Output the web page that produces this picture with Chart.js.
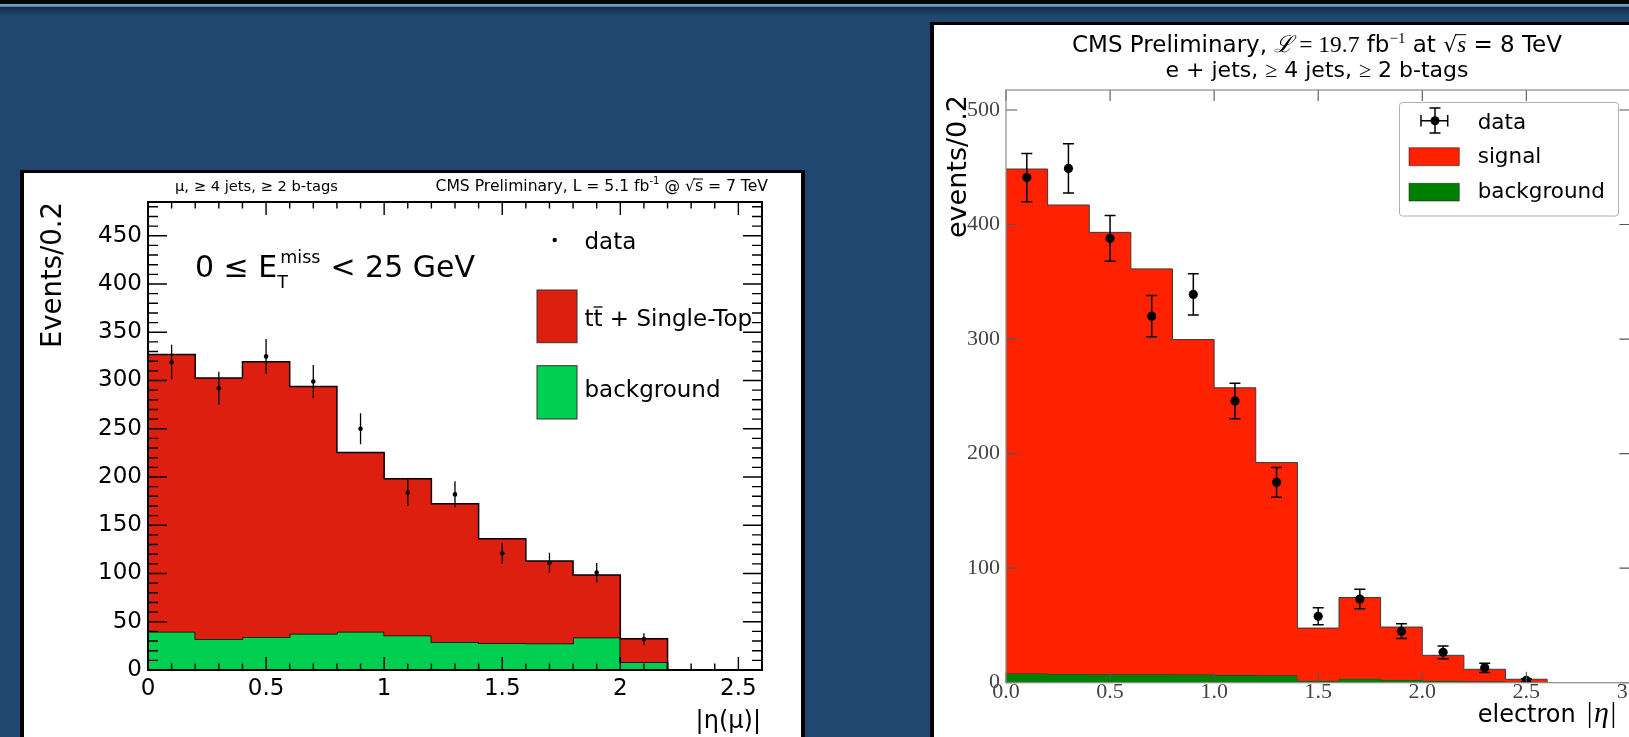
<!DOCTYPE html>
<html><head><meta charset="utf-8">
<script src="https://cdn.jsdelivr.net/npm/chart.js@4.4.1/dist/chart.umd.min.js"></script>
<style>
html,body{margin:0;padding:0;width:1629px;height:737px;overflow:hidden;background:#1f476f;}
#topblack{position:absolute;left:0;top:0;width:1629px;height:4px;background:#050505;}
#topline{position:absolute;left:0;top:4px;width:1629px;height:3px;background:linear-gradient(#86acd6,#4d79a9);}
#topshade{position:absolute;left:0;top:7px;width:1629px;height:9px;background:linear-gradient(#132b45,#1f476f);}
#leftPanel{position:absolute;left:20px;top:170px;width:777px;height:600px;border-left:4px solid #000;border-right:4px solid #000;border-top:3px solid #000;background:#fff;}
#rightPanel{position:absolute;left:930px;top:22px;width:760px;height:760px;border-left:4px solid #000;border-top:3px solid #000;background:#fff;}
canvas{position:absolute;left:0;top:0;}
</style></head>
<body>
<div id="topblack"></div><div id="topline"></div><div id="topshade"></div>
<div id="leftPanel"><canvas id="leftChart" width="777" height="564"></canvas></div>
<div id="rightPanel"><canvas id="rightChart" width="726" height="712"></canvas></div>
<script>
// ---------------- Left chart (muon |eta|, 7 TeV) ----------------
const leftBinLow = [0.0,0.2,0.4,0.6,0.8,1.0,1.2,1.4,1.6,1.8,2.0];
const leftBinWidth = 0.2;
const leftBackground = [39.7,32.0,34.1,37.6,39.7,35.8,28.9,27.8,27.5,33.8,8.0];
const leftSignal = [287.3,270.7,285.3,256.1,185.8,162.5,143.3,108.2,85.5,64.7,24.4];
const leftDataX = [0.1,0.3,0.5,0.7,0.9,1.1,1.3,1.5,1.7,1.9,2.1];
const leftDataY = [319,292,325,299,250,184,182,121,111,101,32];
const leftDataErr = [18,17,18,17,16,14,13.5,11,10.5,10,6];
const leftXTicks = [0,0.5,1,1.5,2,2.5];
const leftXTickLabels = ['0','0.5','1','1.5','2','2.5'];
const leftYTicks = [0,50,100,150,200,250,300,350,400,450];
const leftYTickLabels = ['0','50','100','150','200','250','300','350','400','450'];

// ---------------- Right chart (electron |eta|, 8 TeV) ----------------
const rightBinLow = [0.0,0.2,0.4,0.6,0.8,1.0,1.2,1.4,1.6,1.8,2.0,2.2,2.4];
const rightBinWidth = 0.2;
const rightBackground = [8.1,7.6,7.3,7.3,7.2,6.7,6.4,1.7,3.5,2.6,1.7,1.2,0.6];
const rightSignal = [440.4,409.5,385.9,354.0,292.4,250.8,185.8,46.0,70.9,46.0,22.2,10.5,2.4];
const rightDataX = [0.1,0.3,0.5,0.7,0.9,1.1,1.3,1.5,1.7,1.9,2.1,2.3,2.5];
const rightDataY = [441,449,388,320,339,246,175,58,73,45,26.5,13,2];
const rightDataErr = [21,21.5,20,18,18,15.5,13,7.5,8.5,6.5,5.5,4,1.5];
const rightXTicks = [0,0.5,1,1.5,2,2.5,3];
const rightXTickLabels = ['0.0','0.5','1.0','1.5','2.0','2.5','3.0'];
const rightYTicks = [0,100,200,300,400,500];
const rightYTickLabels = ['0','100','200','300','400','500'];

// ---------- helpers ----------
function stepPoints(lows, width, vals){
  const pts = lows.map((x,i)=>({x:x, y:vals[i]}));
  const end = lows[lows.length-1] + width;
  pts.push({x:end, y:vals[vals.length-1]});
  pts.push({x:end, y:0});
  return pts;
}
function sumArr(a,b){ return a.map((v,i)=>v+b[i]); }

function drawRuns(ctx, parts, x, y, align){
  let w = 0;
  parts.forEach(p=>{ ctx.font = p.font; p.w = ctx.measureText(p.t).width; w += p.w + (p.adv||0); });
  let cx = align==='center' ? x - w/2 : (align==='right' ? x - w : x);
  ctx.textAlign = 'left'; ctx.textBaseline = 'alphabetic';
  parts.forEach(p=>{
    ctx.font = p.font;
    ctx.fillText(p.t, cx, y + (p.dy||0));
    if (p.over){
      ctx.save(); ctx.lineWidth = p.overW || 1; ctx.strokeStyle = ctx.fillStyle;
      ctx.beginPath(); ctx.moveTo(cx + (p.ox0||0), y + p.over); ctx.lineTo(cx + p.w + (p.ox1||0), y + p.over); ctx.stroke(); ctx.restore();
    }
    cx += p.w + (p.adv||0);
  });
}

function errorBarPlugin(id, xs, ys, errs, cap, lw){
  return { id, afterDatasetsDraw(chart){
    const {ctx, scales:{x,y}} = chart;
    ctx.save(); ctx.strokeStyle = '#000'; ctx.lineWidth = lw; ctx.beginPath();
    xs.forEach((xv,i)=>{
      const px = x.getPixelForValue(xv);
      const top = y.getPixelForValue(ys[i]+errs[i]);
      const bot = y.getPixelForValue(Math.max(0, ys[i]-errs[i]));
      ctx.moveTo(px, top); ctx.lineTo(px, bot);
      if (cap){ ctx.moveTo(px-cap, top); ctx.lineTo(px+cap, top); ctx.moveTo(px-cap, bot); ctx.lineTo(px+cap, bot); }
    });
    ctx.stroke(); ctx.restore();
  }};
}

function frameTicksPlugin(id, o){
  return { id, afterDatasetsDraw(chart){
    const {ctx, chartArea:a, scales:{x,y}} = chart;
    ctx.save();
    ctx.strokeStyle = o.tickColor; ctx.lineWidth = o.tickWidth; ctx.beginPath();
    const xt = (vals, len)=>vals.forEach(v=>{
      const px = x.getPixelForValue(v);
      ctx.moveTo(px, a.bottom); ctx.lineTo(px, a.bottom - len);
      ctx.moveTo(px, a.top); ctx.lineTo(px, a.top + len);
    });
    const yt = (vals, len)=>vals.forEach(v=>{
      const py = y.getPixelForValue(v);
      ctx.moveTo(a.left, py); ctx.lineTo(a.left + len, py);
      ctx.moveTo(a.right, py); ctx.lineTo(a.right - len, py);
    });
    xt(o.xMajor, o.xMajLen); if (o.xMinor) xt(o.xMinor, o.xMinLen);
    yt(o.yMajor, o.yMajLen); if (o.yMinor) yt(o.yMinor, o.yMinLen);
    ctx.stroke();
    ctx.strokeStyle = o.frameColor; ctx.lineWidth = o.frameWidth;
    ctx.strokeRect(a.left, a.top, a.right - a.left, a.bottom - a.top);
    ctx.restore();
  }};
}

// ---------------- Left chart ----------------
const leftMinorX = []; for (let i=0;i<=26;i++){ if (i%5) leftMinorX.push(i/10); }
const leftMinorY = []; for (let v=10; v<=480; v+=10){ if (v%50) leftMinorY.push(v); }
const LF = 'DejaVu Sans';

const leftTexts = { id:'leftTexts', afterDraw(chart){
  const ctx = chart.ctx; ctx.save(); ctx.fillStyle = '#000';
  // top titles
  drawRuns(ctx, [{t:'\u03BC, \u2265 4 jets, \u2265 2 b-tags', font:'14.7px '+LF}], 151, 18, 'left');
  drawRuns(ctx, [
    {t:'CMS Preliminary, L = 5.1 fb', font:'15.6px '+LF},
    {t:'-1', font:'10px '+LF, dy:-7},
    {t:' @ ', font:'15.6px '+LF},
    {t:'\u221A', font:'15.6px '+LF},
    {t:'s', font:'15.6px '+LF, over:-12, ox0:-1},
    {t:' = 7 TeV', font:'15.6px '+LF}
  ], 744, 18, 'right');
  // E_T^miss text
  ctx.font = '30px '+LF; ctx.textAlign='left'; ctx.textBaseline='alphabetic';
  let x0 = 171, base = 104;
  const s1 = '0 \u2264 E'; ctx.fillText(s1, x0, base); x0 += ctx.measureText(s1).width;
  ctx.font = '17.5px '+LF; ctx.fillText('T', x0, base + 11);
  ctx.fillText('miss', x0 + 3, base - 14); const wm = ctx.measureText('miss').width;
  x0 += wm + 13;
  ctx.font = '30px '+LF; ctx.fillText('< 25 GeV', x0, base);
  // y title
  ctx.save(); ctx.translate(37, 29); ctx.rotate(-Math.PI/2);
  ctx.font = '27.5px '+LF; ctx.textAlign='right'; ctx.textBaseline='alphabetic';
  ctx.fillText('Events/0.2', 0, 0); ctx.restore();
  // x title
  ctx.font = '24px '+LF; ctx.textAlign='right'; ctx.fillText('|\u03B7(\u03BC)|', 737, 555);
  // legend
  ctx.beginPath(); ctx.arc(530.7, 67, 2.2, 0, Math.PI*2); ctx.fill();
  ctx.font = '23px '+LF; ctx.textAlign='left';
  ctx.fillText('data', 560.5, 76);
  ctx.fillStyle = '#dc1f0f'; ctx.fillRect(513, 117, 40, 52.7);
  ctx.strokeStyle = '#333'; ctx.lineWidth = 1; ctx.strokeRect(513, 117, 40, 52.7);
  ctx.fillStyle = '#00cf52'; ctx.fillRect(513, 192.7, 40, 53.3);
  ctx.strokeRect(513, 192.7, 40, 53.3);
  ctx.fillStyle = '#000';
  drawRuns(ctx, [
    {t:'t', font:'23px '+LF},
    {t:'t', font:'23px '+LF, over:-19, overW:1.3},
    {t:' + Single-Top', font:'23px '+LF}
  ], 560.5, 153, 'left');
  ctx.fillText('background', 560.5, 224);
  ctx.restore();
}};

new Chart(document.getElementById('leftChart'), {
  type:'line',
  data:{ datasets:[
    { label:'background', data: stepPoints(leftBinLow, leftBinWidth, leftBackground), stepped:'before',
      borderColor:'#000', borderWidth:1.5, backgroundColor:'#00cf52', fill:'origin', pointRadius:0, order:2 },
    { label:'tt + Single-Top', data: stepPoints(leftBinLow, leftBinWidth, sumArr(leftBackground, leftSignal)), stepped:'before',
      borderColor:'#000', borderWidth:1.5, backgroundColor:'#dc1f0f', fill:'-1', pointRadius:0, order:1 },
    { label:'data', data: leftDataX.map((x,i)=>({x:x, y:leftDataY[i]})), showLine:false,
      pointRadius:2.3, pointBackgroundColor:'#000', pointBorderWidth:0, order:0 }
  ]},
  options:{
    responsive:false, animation:false, devicePixelRatio:1,
    layout:{ padding:{ left:0, top:29, right:39, bottom:0 } },
    plugins:{ legend:{display:false}, tooltip:{enabled:false} },
    scales:{
      x:{ type:'linear', min:0, max:2.6,
        afterBuildTicks: s=>{ s.ticks = leftXTicks.map(v=>({value:v})); },
        afterFit: s=>{ s.height = 67; },
        ticks:{ callback:(v,i)=>leftXTickLabels[i], font:{family:LF, size:23}, color:'#000', padding:5, maxRotation:0, autoSkip:false },
        grid:{ display:false, drawTicks:false }, border:{ display:false } },
      y:{ type:'linear', min:0, max:485,
        afterBuildTicks: s=>{ s.ticks = leftYTicks.map(v=>({value:v})); },
        afterFit: s=>{ s.width = 124; },
        ticks:{ callback:(v,i)=>leftYTickLabels[i], font:{family:LF, size:23}, color:'#000', padding:6, autoSkip:false },
        grid:{ display:false, drawTicks:false }, border:{ display:false } }
    }
  },
  plugins:[
    errorBarPlugin('leftErr', leftDataX, leftDataY, leftDataErr, 0, 1.3),
    frameTicksPlugin('leftFrame', { tickColor:'#000', tickWidth:1.4, frameColor:'#000', frameWidth:2,
      xMajor:leftXTicks, xMinor:leftMinorX, xMajLen:13, xMinLen:6.5,
      yMajor:leftYTicks, yMinor:leftMinorY, yMajLen:19, yMinLen:10 }),
    leftTexts
  ]
});

// ---------------- Right chart ----------------
const RF = 'DejaVu Sans';
const SF = 'Liberation Serif';
const rightTexts = { id:'rightTexts', afterDraw(chart){
  const ctx = chart.ctx; ctx.save(); ctx.fillStyle = '#000';
  drawRuns(ctx, [
    {t:'CMS Preliminary, ', font:'23px '+RF},
    {t:'\u2112', font:'italic 23px '+SF},
    {t:' = 19.7', font:'23.5px '+SF},
    {t:' fb', font:'23px '+RF},
    {t:'\u22121', font:'15px '+SF, dy:-9},
    {t:' at ', font:'23px '+RF},
    {t:'\u221A', font:'22px '+RF},
    {t:'s', font:'italic 23px '+SF, over:-17, ox0:-1},
    {t:' = 8 TeV', font:'23px '+RF}
  ], 383, 26.7, 'center');
  drawRuns(ctx, [
    {t:'e + jets, ', font:'22px '+RF},
    {t:'\u2265', font:'22px '+SF},
    {t:' 4 jets, ', font:'22px '+RF},
    {t:'\u2265', font:'22px '+SF},
    {t:' 2 b-tags', font:'22px '+RF}
  ], 383, 51.7, 'center');
  // y title
  ctx.save(); ctx.translate(32, 70); ctx.rotate(-Math.PI/2);
  ctx.font = '27px '+RF; ctx.textAlign='right'; ctx.textBaseline='alphabetic';
  ctx.fillText('events/0.2', 0, 0); ctx.restore();
  // x title
  drawRuns(ctx, [
    {t:'electron', font:'24px '+RF, adv:11},
    {t:'|', font:'29px '+SF, adv:1.5},
    {t:'\u03B7', font:'italic 30px '+SF, adv:1.5},
    {t:'|', font:'29px '+SF}
  ], 543.7, 696.7, 'left');
  // legend
  ctx.beginPath();
  if (ctx.roundRect) ctx.roundRect(465.5, 77.5, 219, 113.5, 3); else ctx.rect(465.5, 77.5, 219, 113.5);
  ctx.fillStyle = 'rgba(255,255,255,0.9)'; ctx.fill();
  ctx.strokeStyle = '#b0b0b0'; ctx.lineWidth = 1; ctx.stroke();
  ctx.strokeStyle = '#000'; ctx.lineWidth = 1.5; ctx.beginPath();
  ctx.moveTo(487, 95.7); ctx.lineTo(513.7, 95.7);
  ctx.moveTo(501, 83); ctx.lineTo(501, 108);
  ctx.moveTo(487, 90); ctx.lineTo(487, 101.5);
  ctx.moveTo(513.7, 90); ctx.lineTo(513.7, 101.5);
  ctx.moveTo(495.5, 83); ctx.lineTo(506.5, 83);
  ctx.moveTo(495.5, 108); ctx.lineTo(506.5, 108);
  ctx.stroke();
  ctx.fillStyle = '#000'; ctx.beginPath(); ctx.arc(501, 95.7, 4.5, 0, Math.PI*2); ctx.fill();
  ctx.lineWidth = 1; ctx.strokeStyle = 'rgba(0,0,0,0.45)';
  ctx.fillStyle = '#ff2200'; ctx.fillRect(475, 122.7, 50.3, 18); ctx.strokeRect(475, 122.7, 50.3, 18);
  ctx.fillStyle = '#008000'; ctx.fillRect(475, 158.3, 50.3, 17.7); ctx.strokeRect(475, 158.3, 50.3, 17.7);
  ctx.fillStyle = '#000'; ctx.font = '21.5px '+RF; ctx.textAlign='left'; ctx.textBaseline='alphabetic';
  ctx.fillText('data', 543.7, 104);
  ctx.fillText('signal', 543.7, 138.3);
  ctx.fillText('background', 543.7, 173);
  ctx.restore();
}};

new Chart(document.getElementById('rightChart'), {
  type:'line',
  data:{ datasets:[
    { label:'background', data: stepPoints(rightBinLow, rightBinWidth, rightBackground), stepped:'before',
      borderColor:'#2a2a2a', borderWidth:1, backgroundColor:'#008000', fill:'origin', pointRadius:0, order:2 },
    { label:'signal', data: stepPoints(rightBinLow, rightBinWidth, sumArr(rightBackground, rightSignal)), stepped:'before',
      borderColor:'#3a3a3a', borderWidth:1, backgroundColor:'#ff2200', fill:'-1', pointRadius:0, order:1 },
    { label:'data', data: rightDataX.map((x,i)=>({x:x, y:rightDataY[i]})), showLine:false,
      pointRadius:4.6, pointBackgroundColor:'#000', pointBorderWidth:0, order:0 }
  ]},
  options:{
    responsive:false, animation:false, devicePixelRatio:1,
    layout:{ padding:{ left:0, top:65, right:29.6, bottom:0 } },
    plugins:{ legend:{display:false}, tooltip:{enabled:false} },
    scales:{
      x:{ type:'linear', min:0, max:3.0,
        afterBuildTicks: s=>{ s.ticks = rightXTicks.map(v=>({value:v})); },
        afterFit: s=>{ s.height = 54.3; },
        ticks:{ callback:(v,i)=>rightXTickLabels[i], font:{family:SF, size:22, lineHeight:0.9}, color:'#444', padding:0, maxRotation:0, autoSkip:false },
        grid:{ display:false, drawTicks:false }, border:{ display:false } },
      y:{ type:'linear', min:0, max:517.5,
        afterBuildTicks: s=>{ s.ticks = rightYTicks.map(v=>({value:v})); },
        afterFit: s=>{ s.width = 72; },
        ticks:{ callback:(v,i)=>rightYTickLabels[i], font:{family:SF, size:22}, color:'#444', padding:6, autoSkip:false },
        grid:{ display:false, drawTicks:false }, border:{ display:false } }
    }
  },
  plugins:[
    errorBarPlugin('rightErr', rightDataX, rightDataY, rightDataErr, 5.5, 1.5),
    frameTicksPlugin('rightFrame', { tickColor:'#555', tickWidth:1.1, frameColor:'#8a8a8a', frameWidth:1.2,
      xMajor:rightXTicks, xMajLen:11, yMajor:rightYTicks, yMajLen:11 }),
    rightTexts
  ]
});
</script>
</body></html>
